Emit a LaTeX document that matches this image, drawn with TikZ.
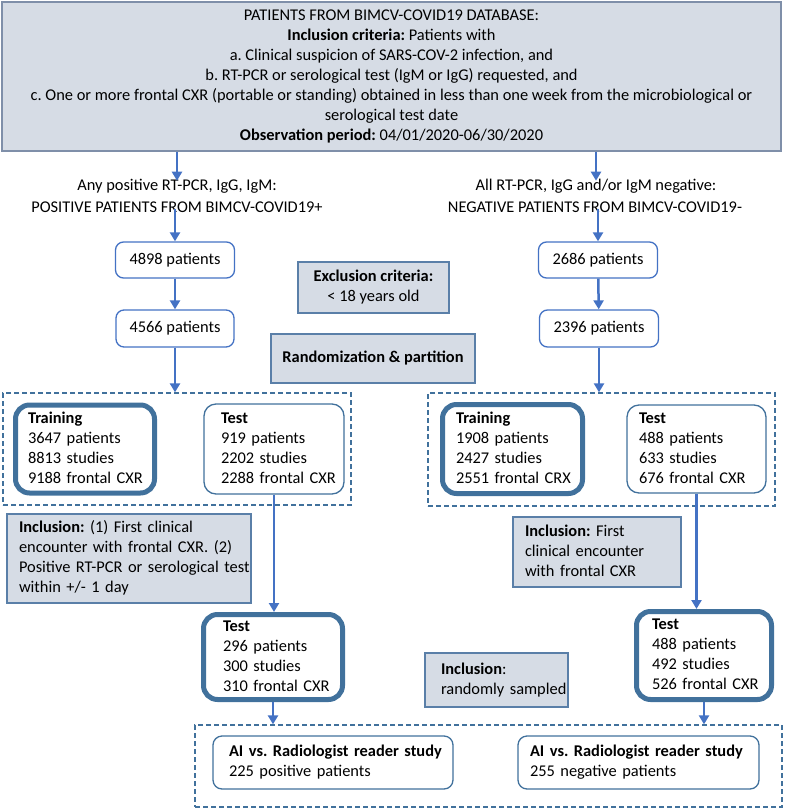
\documentclass[tikz,border=0pt]{standalone}
\usepackage{fontspec}
\setmainfont{Carlito}
\usetikzlibrary{arrows.meta,positioning}
\definecolor{grayfill}{HTML}{D6DCE5}
\definecolor{topborder}{HTML}{7F8FA9}
\definecolor{grayborder}{HTML}{5A7FA8}
\definecolor{arrowblue}{HTML}{4472C4}
\definecolor{steel}{HTML}{41719C}
\newcommand{\boxlines}[1]{\begin{tabular}{@{}l@{}}#1\end{tabular}}
\frenchspacing
\tikzset{
  fnt/.style={font=\fontsize{16.4}{20}\selectfont},
  txt/.style={fnt, inner sep=0pt},
  graybox/.style={draw=grayborder, line width=1.2pt, fill=grayfill, fnt, inner sep=0pt},
  bluebox/.style={draw=arrowblue, line width=1.3pt, fill=white, rounded corners=8pt, fnt, inner sep=0pt},
  testbox/.style={draw=steel, line width=1.3pt, fill=white, rounded corners=12pt, fnt, inner sep=0pt, align=left},
  thickbox/.style={draw=steel, line width=5pt, fill=white, rounded corners=14pt, fnt, inner sep=0pt, align=left},
  dashbox/.style={draw=steel, line width=1.3pt, dash pattern=on 5pt off 3pt, inner sep=0pt},
  arr/.style={draw=arrowblue, line width=2.5pt, -{Triangle[width=10pt,length=9pt]}},
}
\renewcommand{\arraystretch}{1}
\begin{document}
\frenchspacing
\begin{tikzpicture}[x=1pt,y=-1pt]
\useasboundingbox (0,0) rectangle (784,808);
% top box
\node[graybox, draw=topborder, minimum width=779, minimum height=149, align=center] (top) at (391.5,76.5)
 {PATIENTS FROM BIMCV-COVID19 DATABASE:\\
  \textbf{Inclusion criteria:} Patients with\\
  a. Clinical suspicion of SARS-COV-2 infection, and\\
  b. RT-PCR or serological test (IgM or IgG) requested, and\\
  c. One or more frontal CXR (portable or standing) obtained in less than one week from the microbiological or\\
  serological test date\\
  \textbf{Observation period:} 04/01/2020-06/30/2020};
% branch labels
\node[txt] (tl1) at (177,186) {Any positive RT-PCR, IgG, IgM:};
\node[txt] (tl2) at (177,207) {POSITIVE PATIENTS FROM BIMCV-COVID19+};
\node[txt] (tr1) at (596,186) {All RT-PCR, IgG and/or IgM negative:};
\node[txt] (tr2) at (595,207) {NEGATIVE PATIENTS FROM BIMCV-COVID19-};
% patient count boxes
\node[bluebox, minimum width=119, minimum height=36] (p1) at (175,260) {4898 patients};
\node[bluebox, minimum width=118, minimum height=37] (p2) at (175,328.5) {4566 patients};
\node[bluebox, minimum width=119, minimum height=36] (n1) at (598,260) {2686 patients};
\node[bluebox, minimum width=119, minimum height=37] (n2) at (599,328.5) {2396 patients};
% center gray boxes
\node[graybox, minimum width=151, minimum height=51, align=center] (excl) at (373.5,287.5)
 {\textbf{Exclusion criteria:}\\ {<} 18 years old};
\node[graybox, minimum width=204, minimum height=49] (rand) at (373,358.5) {\textbf{Randomization \& partition}};
% dashed groups
\node[dashbox, minimum width=348, minimum height=112] (dashL) at (177,449) {};
\node[dashbox, minimum width=347, minimum height=113] (dashR) at (601.5,449.5) {};
% training / test boxes
\node[thickbox, minimum width=139, minimum height=88, text width=114] (trL) at (85,449)
 {\boxlines{\textbf{Training}\\3647 patients\\8813 studies\\9188 frontal CXR}};
\node[testbox, minimum width=140, minimum height=90, text width=106] (teL) at (274,449)
 {\boxlines{\textbf{Test}\\919 patients\\2202 studies\\2288 frontal CXR}};
\node[thickbox, minimum width=140, minimum height=89, text width=113] (trR) at (512.5,449)
 {\boxlines{\textbf{Training}\\1908 patients\\2427 studies\\2551 frontal CRX}};
\node[testbox, minimum width=139, minimum height=88, text width=115] (teR) at (696.5,449)
 {\boxlines{\textbf{Test}\\488 patients\\633 studies\\676 frontal CXR}};
% inclusion boxes
\node[graybox, minimum width=244, minimum height=89, align=left, text width=220] (inclL) at (129,558.5)
 {\boxlines{\textbf{Inclusion:} (1) First clinical\\encounter with frontal CXR. (2)\\Positive RT-PCR or serological test\\within +/- 1 day}};
\node[graybox, minimum width=168, minimum height=70, align=left, text width=144] (inclR) at (597,552)
 {\boxlines{\textbf{Inclusion:} First\\clinical encounter\\with frontal CXR}};
\node[graybox, minimum width=143, minimum height=54, align=left, text width=111] (inclS) at (496.5,680)
 {\boxlines{\textbf{Inclusion}:\\randomly sampled}};
% bottom test boxes
\node[thickbox, minimum width=139, minimum height=85, text width=100] (btL) at (273,657)
 {\boxlines{\textbf{Test}\\296 patients\\300 studies\\310 frontal CXR}};
\node[thickbox, minimum width=135, minimum height=88, text width=104] (btR) at (704,655.5)
 {\boxlines{\textbf{Test}\\488 patients\\492 studies\\526 frontal CXR}};
% reader study
\node[dashbox, minimum width=587, minimum height=82] (dashB) at (488.5,766) {};
\node[testbox, rounded corners=9pt, minimum width=240, minimum height=53, text width=208] (aiL) at (333,762.5)
 {\boxlines{\textbf{AI vs. Radiologist reader study}\\225 positive patients}};
\node[testbox, rounded corners=9pt, minimum width=241, minimum height=53, text width=217] (aiR) at (638.5,762.5)
 {\boxlines{\textbf{AI vs. Radiologist reader study}\\255 negative patients}};
% arrows
\draw[arr] (top.south -| tl1) -- ([yshift=-2pt]tl1.north);
\draw[arr] (top.south -| tr1) -- ([yshift=-2pt]tr1.north);
\draw[arr] ([yshift=4pt]tl2.south -| p1) -- (p1.north);
\draw[arr] ([yshift=4pt]tr2.south -| n1) -- (n1.north);
\draw[arr] (p1) -- (p2);
\draw[arr] (n1) -- (n2);
\draw[arr] (p2.south) -- (dashL.north -| p2);
\draw[arr] (n2.south) -- (dashR.north -| n2);
\draw[arr] (teL.south) -- (btL.north -| teL);
\draw[arr] (teR.south) -- (btR.north -| teR);
\draw[arr] (btL.south) -- (dashB.north -| btL);
\draw[arr] (btR.south) -- (dashB.north -| btR);
\end{tikzpicture}
\end{document}
